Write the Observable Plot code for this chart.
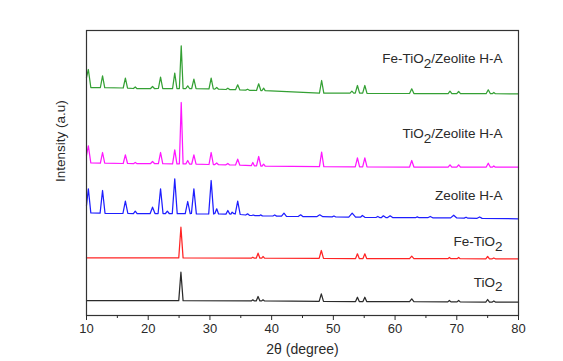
<!DOCTYPE html>
<html><head><meta charset="utf-8">
<script src="https://cdn.jsdelivr.net/npm/d3@7"></script>
<script src="https://cdn.jsdelivr.net/npm/@observablehq/plot@0.6"></script>
<style>body{margin:0;background:#fff;font-family:"Liberation Sans",Arial,sans-serif}</style>
</head><body><div id="chart"></div>
<script>
// Series names (bottom to top) and colours
const seriesNames = ["TiO2", "Fe-TiO2", "Zeolite H-A", "TiO2/Zeolite H-A", "Fe-TiO2/Zeolite H-A"];
const seriesColors = ["#2b2b2b", "#ff2424", "#1e1eff", "#ff17ff", "#34a034"];

// XRD patterns: [2θ (deg), intensity (a.u., stacked offsets)]
const tio2Pts = [[10,15],[24.95,14.9],[25.3,43.3],[25.65,14.8],[36.7,14.6],[36.95,15.7],[37.2,14.6],[37.5,14.6],[37.8,19],[38.1,14.6],[38.4,14.6],[38.6,15.7],[38.85,14.6],[47.7,14.2],[48.05,21.7],[48.4,14.2],[53.6,14],[53.9,18.3],[54.2,14],[54.8,14],[55.1,18.3],[55.4,14],[62.35,13.8],[62.7,16.7],[63.05,13.8],[68.55,13.6],[68.8,15],[69.05,13.6],[70.05,13.6],[70.3,15],[70.55,13.6],[74.7,13.4],[75.0,16],[75.3,13.4],[75.75,13.4],[76.0,14.5],[76.25,13.4],[80,13.3]];

const feTio2Pts = [[10,57.7],[24.95,57.6],[25.3,88.3],[25.65,57.6],[36.7,57.3],[36.95,58.3],[37.2,57.3],[37.5,57.3],[37.8,62.3],[38.1,57.3],[38.4,57.3],[38.6,59],[38.85,57.3],[47.7,57.1],[48.05,65],[48.4,57.1],[53.6,57],[53.9,61.7],[54.2,57],[54.8,57],[55.1,61.7],[55.4,57],[62.35,56.9],[62.7,59.3],[63.05,56.9],[68.55,56.8],[68.8,58],[69.05,56.8],[70.05,56.8],[70.3,58],[70.55,56.8],[74.7,56.7],[75.0,59],[75.3,56.7],[75.75,56.7],[76.0,57.5],[76.25,56.7],[80,56.7]];

const zeolitePts = [[10,110],[10.3,126.7],[10.7,102.5],[12.2,102.3],[12.6,125],[13.0,102.2],[15.9,102],[16.3,114.3],[16.7,102],[17.6,101.8],[17.9,104.3],[18.2,101.8],[20.3,101.8],[20.7,108.3],[21.1,102],[21.6,102],[22.0,126.7],[22.4,102],[22.8,102],[23.1,104.3],[23.4,102],[23.9,102],[24.3,136.7],[24.7,101.8],[26.0,101.8],[26.4,114],[26.8,101.8],[27.0,102],[27.4,126.7],[27.8,101.6],[29.8,101.5],[30.2,135],[30.6,101.5],[30.8,102],[31.1,106.7],[31.4,101.5],[32.6,101.4],[32.9,105],[33.2,101.6],[33.4,101.4],[33.6,103.3],[33.9,101.8],[34.1,101.5],[34.5,114.3],[34.9,101],[35.8,100.5],[36.1,101.7],[36.4,100.2],[36.8,100],[37.0,100.5],[37.3,99.8],[38.0,99.8],[38.2,100.6],[38.5,99.6],[40.2,99.5],[40.5,100.5],[40.8,99.4],[41.6,99.3],[42.0,102.3],[42.4,99.2],[44.3,99],[44.7,100.7],[45.1,98.8],[47.3,98.8],[47.8,100.7],[48.3,98.8],[49.8,98.6],[50.1,99.5],[50.4,98.5],[52.5,98.4],[53.05,102.3],[53.6,98.4],[54.4,98.3],[54.7,100],[55.1,98.2],[56.9,98],[57.2,99],[57.5,98],[57.8,98],[58.1,99.7],[58.5,98],[58.8,98],[59.2,99.7],[59.6,97.9],[63.3,97.8],[63.6,98.6],[63.9,97.8],[65.3,97.8],[65.7,99],[66.1,97.7],[69.0,97.6],[69.5,100.3],[70.0,97.5],[71.2,97.4],[71.5,98.3],[71.8,97.3],[73.3,97.2],[73.7,98.5],[74.1,97.1],[80,96.7]];

const tio2ZeoPts = [[10,160],[10.3,169.7],[10.7,152.5],[12.25,152.3],[12.6,163],[12.95,152.3],[15.95,152],[16.3,160.7],[16.65,152],[17.6,151.8],[17.9,153],[18.2,151.8],[20.35,151.8],[20.7,154],[21.05,151.8],[21.65,151.8],[22.0,163],[22.35,151.8],[23.95,151.7],[24.3,165.7],[24.65,151.7],[25.05,151.7],[25.35,213],[25.65,151.6],[26.1,151.6],[26.4,155],[26.7,151.5],[27.05,151.5],[27.4,160.7],[27.75,151.3],[29.85,151],[30.2,163],[30.55,151],[30.8,151],[31.1,152.5],[31.4,150.8],[32.6,150.7],[32.9,152],[33.2,150.6],[34.15,150.5],[34.5,156.3],[34.85,150.3],[36.7,149.8],[36.95,153],[37.2,149.7],[37.55,149.6],[37.9,159],[38.25,149.5],[38.45,149.5],[38.7,151.3],[38.95,149.3],[47.75,148.8],[48.1,163.3],[48.45,148.8],[53.55,148.6],[53.9,157.7],[54.25,148.6],[54.75,148.6],[55.1,157.7],[55.45,148.6],[62.35,148.5],[62.7,155],[63.05,148.5],[68.6,148.4],[68.9,150.7],[69.2,148.4],[70.0,148.4],[70.3,150.7],[70.6,148.4],[74.75,148.3],[75.1,152.3],[75.45,148.3],[75.75,148.3],[76.0,149.5],[76.25,148.3],[80,148.3]];

const feTio2ZeoPts = [[10,238],[10.3,246],[10.7,228],[12.25,228],[12.6,239.7],[12.95,227.8],[15.95,227.5],[16.3,237.3],[16.65,227.3],[17.6,227],[17.9,228.5],[18.2,226.8],[20.35,226.8],[20.7,229],[21.05,226.8],[21.65,227],[22.0,238.3],[22.35,227],[23.95,227],[24.3,242.3],[24.65,227],[25.05,227],[25.35,269.7],[25.65,227],[26.1,227],[26.4,229.7],[26.7,227],[27.05,227],[27.4,236.3],[27.75,226.8],[29.85,226.6],[30.2,237.3],[30.55,226.5],[30.8,226.4],[31.1,228],[31.4,226.3],[32.6,226],[32.9,227.3],[33.2,225.9],[34.15,225.8],[34.5,230.7],[34.85,225.6],[35.8,225.4],[36.1,226.3],[36.4,225.2],[37.55,225],[37.9,231.7],[38.25,225],[38.45,225],[38.7,227.3],[38.95,224.8],[47.75,222.4],[48.1,235],[48.45,222.4],[52.7,222.3],[53.0,224.3],[53.3,222.3],[53.55,222.3],[53.9,230],[54.25,222.3],[54.75,222.3],[55.1,230],[55.45,222.2],[62.35,222],[62.7,226.7],[63.05,222],[68.6,221.9],[68.9,224.3],[69.2,221.9],[70.0,221.9],[70.3,224],[70.6,221.9],[74.75,221.8],[75.1,225.7],[75.45,221.8],[75.75,221.8],[76.0,223],[76.25,221.8],[80,221.7]];

const seriesData = [tio2Pts, feTio2Pts, zeolitePts, tio2ZeoPts, feTio2ZeoPts];

// Label anchors (data units)
const labelTheta = [77.4, 77.4, 77.4, 77.4, 77.4];
const labelIntensity = [33.3, 74, 119.5, 182, 257];

const majorTicks = [10, 20, 30, 40, 50, 60, 70, 80];
const minorTicks = [15, 25, 35, 45, 55, 65, 75];

const rows = [];
seriesData.forEach((pts, i) => pts.forEach(([t, v]) => rows.push({series: seriesNames[i], theta: t, intensity: v})));
const labels = seriesNames.map((name, i) => ({name, theta: labelTheta[i], intensity: labelIntensity[i]}));

const chart = Plot.plot({
  width: 563, height: 361,
  marginLeft: 86, marginRight: 45, marginTop: 30, marginBottom: 46,
  style: {fontFamily: "'Liberation Sans', Arial, sans-serif", fontSize: "13px", color: "#2a2a2a", background: "#fff"},
  x: {domain: [10, 80], axis: null, label: null},
  y: {domain: [0, 285], axis: null, label: null},
  color: {domain: seriesNames, range: seriesColors},
  marks: [
    Plot.line(rows, {x: "theta", y: "intensity", z: "series", stroke: "series", strokeWidth: 1.25, strokeLinejoin: "round"}),
    Plot.frame({stroke: "#333", strokeWidth: 1.2}),
    Plot.axisX(majorTicks, {tickSize: 5, tickPadding: 3, color: "#2a2a2a", fontSize: 13, label: null}),
    Plot.axisX(minorTicks, {tickSize: 3, tickFormat: () => "", color: "#2a2a2a", label: null}),
    Plot.text(labels, {x: "theta", y: "intensity", text: "name", textAnchor: "end", fontSize: 13.5, fill: "#2a2a2a"}),
    Plot.text(["Intensity (a.u)"], {frameAnchor: "left", rotate: -90, dx: -26, dy: 9, fontSize: 13.5, fill: "#2a2a2a"}),
    Plot.text(["2θ (degree)"], {frameAnchor: "bottom", dy: 38, fontSize: 14, fill: "#2a2a2a"})
  ]
});

// Render "O2" as TiO with subscript 2
d3.select(chart).selectAll("text").each(function() {
  const s = this.textContent;
  const k = s.indexOf("O2");
  if (k < 0) return;
  const el = d3.select(this);
  el.text(null);
  el.append("tspan").text(s.slice(0, k + 1));
  el.append("tspan").attr("dy", "0.35em").text("2");
  const rest = s.slice(k + 2);
  if (rest) el.append("tspan").attr("dy", "-0.35em").text(rest);
});

document.getElementById("chart").appendChild(chart);
</script>
</body></html>
